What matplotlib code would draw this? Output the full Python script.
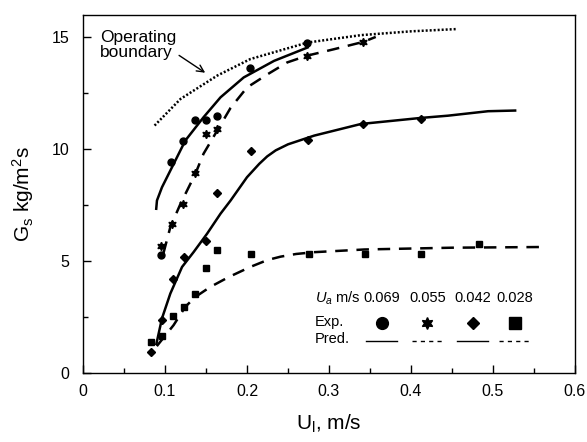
import matplotlib
matplotlib.use("Agg")
import matplotlib.pyplot as plt
from matplotlib.ticker import MultipleLocator

plt.rcParams['font.family'] = ['Liberation Sans', 'DejaVu Sans']
plt.rcParams['mathtext.fontset'] = 'custom'
plt.rcParams['mathtext.rm'] = 'Liberation Sans'
plt.rcParams['mathtext.it'] = 'Liberation Sans:italic'

# ---- Experimental data ----
circ_x = [0.0955, 0.1077, 0.122, 0.136, 0.150, 0.163, 0.204, 0.273]
circ_y = [5.29, 9.44, 10.39, 11.32, 11.32, 11.50, 13.63, 14.74]
star_x = [0.0955, 0.1086, 0.1215, 0.136, 0.150, 0.163, 0.273, 0.342]
star_y = [5.66, 6.64, 7.57, 8.95, 10.69, 10.91, 14.18, 14.80]
diam_x = [0.0824, 0.0963, 0.1098, 0.1228, 0.150, 0.1636, 0.205, 0.274, 0.342, 0.412]
diam_y = [0.94, 2.36, 4.18, 5.20, 5.88, 8.04, 9.90, 10.42, 11.13, 11.35]
sq_x = [0.0824, 0.0963, 0.1098, 0.1236, 0.137, 0.150, 0.1636, 0.205, 0.276, 0.344, 0.4125, 0.4826]
sq_y = [1.40, 1.66, 2.56, 2.96, 3.52, 4.70, 5.50, 5.32, 5.34, 5.34, 5.34, 5.75]

# ---- Predicted curves ----
predA_x = [0.0893, 0.0902, 0.0963, 0.1045, 0.1248, 0.147, 0.1677, 0.196, 0.233, 0.274]
predA_y = [7.34, 7.71, 8.30, 8.90, 10.39, 11.43, 12.32, 13.21, 13.95, 14.55]
predB_x = [0.098, 0.1065, 0.119, 0.137, 0.147, 0.1636, 0.18, 0.200, 0.225, 0.249, 0.273, 0.306, 0.342, 0.357]
predB_y = [5.34, 6.52, 7.57, 8.90, 9.80, 10.83, 11.85, 12.76, 13.35, 13.88, 14.18, 14.47, 14.80, 15.02]
predC_x = [0.0895, 0.0963, 0.1065, 0.1208, 0.135, 0.1514, 0.1677, 0.18, 0.200, 0.215, 0.2246, 0.235, 0.25,
           0.282, 0.339, 0.412, 0.445, 0.494, 0.527]
predC_y = [1.30, 2.44, 3.55, 4.74, 5.41, 6.23, 7.12, 7.71, 8.75, 9.35, 9.68, 9.95, 10.22,
           10.61, 11.13, 11.40, 11.50, 11.70, 11.73]
predD_x = [0.090, 0.1105, 0.1248, 0.137, 0.1554, 0.1778, 0.204, 0.225, 0.241, 0.26, 0.282, 0.343, 0.45, 0.557]
predD_y = [1.20, 2.14, 2.96, 3.40, 3.85, 4.29, 4.74, 5.05, 5.20, 5.32, 5.40, 5.52, 5.60, 5.63]
bound_x = [0.0873, 0.119, 0.1636, 0.204, 0.274, 0.339, 0.40, 0.455]
bound_y = [11.06, 12.25, 13.29, 14.03, 14.77, 15.10, 15.27, 15.37]

ua_labels = ['0.069', '0.055', '0.042', '0.028']
x_ticks = [0, 0.1, 0.2, 0.3, 0.4, 0.5, 0.6]
x_tick_labels = ['0', '0.1', '0.2', '0.3', '0.4', '0.5', '0.6']
y_ticks = [0, 5, 10, 15]

star6 = (6, 1, 0)

fig = plt.figure(figsize=(5.87, 4.42), dpi=100)
ax = fig.add_axes([83/587, 1-373/442, 492/587, 358/442])

k = 'black'
ax.plot(predA_x, predA_y, '-', color=k, lw=1.8)
ax.plot(predB_x, predB_y, '--', color=k, lw=1.8, dashes=(5, 3.5))
ax.plot(predC_x, predC_y, '-', color=k, lw=1.8)
ax.plot(predD_x, predD_y, '--', color=k, lw=1.8, dashes=(5, 3.5))
ax.plot(bound_x, bound_y, color=k, lw=1.8, linestyle=(0, (0.8, 0.8)))

ax.plot(circ_x, circ_y, 'o', color=k, ms=5, ls='none')
ax.plot(star_x, star_y, marker=star6, color=k, ms=6, ls='none')
ax.plot(diam_x, diam_y, 'D', color=k, ms=3.6, ls='none')
ax.plot(sq_x, sq_y, 's', color=k, ms=5, ls='none')

ax.annotate('Operating\nboundary', xy=(0.149, 13.42), xytext=(0.0208, 15.35),
            fontsize=12.5, va='top', ha='left', linespacing=1.0,
            arrowprops=dict(arrowstyle='->', color=k, lw=1, shrinkA=0, shrinkB=0,
                            relpos=(1.0, 0.2)))

ax.set_xlim(0, 0.6)
ax.set_ylim(0, 16)
ax.set_xticks(x_ticks)
ax.set_xticklabels(x_tick_labels)
ax.set_yticks(y_ticks)
ax.xaxis.set_minor_locator(MultipleLocator(0.05))
ax.yaxis.set_minor_locator(MultipleLocator(2.5))
ax.tick_params(which='major', direction='in', length=6, width=1, labelsize=11.5, pad=8)
ax.tick_params(which='minor', direction='in', length=3.5, width=1)
ax.tick_params(axis='y', pad=10)
for s in ax.spines.values():
    s.set_linewidth(1.0)

ax.set_xlabel(r'U$_\mathregular{l}$, m/s', fontsize=15, labelpad=10)
ax.set_ylabel(r'G$_\mathregular{s}$ kg/m$^\mathregular{2}$s', fontsize=15, labelpad=11)

# ---- Custom legend table ----
tr = ax.transAxes
ax.text(0.4715, 0.2095, r'$U_a$ m/s', transform=tr, fontsize=10.5, va='center', ha='left')
ax.text(0.4715, 0.1425, 'Exp.', transform=tr, fontsize=10.5, va='center', ha='left')
ax.text(0.4715, 0.094, 'Pred.', transform=tr, fontsize=10.5, va='center', ha='left')
cols = [0.607, 0.700, 0.792, 0.878]
mk = ['o', star6, 'D', 's']
ms = [8.5, 8.5, 6.5, 8.5]
lstyles = ['-', (0, (3, 3)), '-', (0, (3, 3))]
for cx, lab, m, s, ls in zip(cols, ua_labels, mk, ms, lstyles):
    ax.text(cx, 0.2095, lab, transform=tr, fontsize=10.5, va='center', ha='center')
    ax.plot([cx], [0.140], marker=m, color=k, ms=s, transform=tr, ls='none')
    ax.plot([cx - 0.032, cx + 0.032], [0.089, 0.089], color=k, lw=1.0, linestyle=ls, transform=tr)

fig.savefig('out.png', dpi=100)
